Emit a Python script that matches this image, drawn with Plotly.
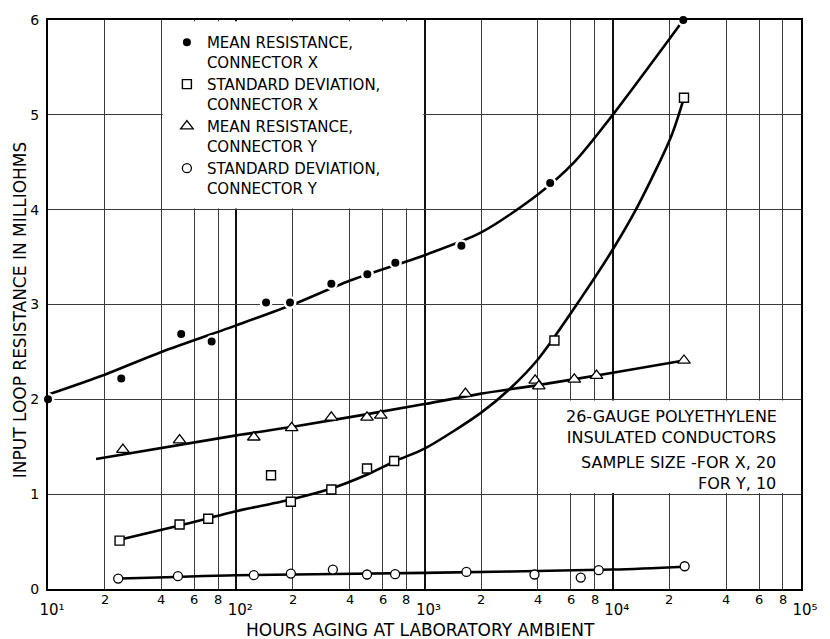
import math
import plotly.graph_objects as go

FONT = "DejaVu Sans"

# ---- measured points -------------------------------------------------------
hours_mean_x = [10, 24.5, 51, 74, 144, 193, 320, 497, 700, 1570, 4650, 23700]
mean_x = [2.0, 2.22, 2.69, 2.61, 3.02, 3.02, 3.22, 3.32, 3.44, 3.62, 4.28, 6.0]

hours_sd_x = [24, 50, 71, 153, 195, 320, 495, 690, 4900, 23900]
sd_x = [0.51, 0.68, 0.74, 1.20, 0.92, 1.05, 1.27, 1.35, 2.62, 5.18]

hours_mean_y = [25, 50, 124, 197, 320, 495, 586, 1650, 3870, 4050, 6250, 8200, 23900]
mean_y = [1.47, 1.57, 1.60, 1.70, 1.81, 1.81, 1.83, 2.06, 2.20, 2.14, 2.21, 2.25, 2.41]

hours_sd_y = [23.6, 49, 124, 195, 326, 495, 698, 1670, 3840, 6760, 8420, 24100]
sd_y = [0.11, 0.135, 0.146, 0.163, 0.205, 0.153, 0.156, 0.18, 0.153, 0.12, 0.198, 0.24]

# ---- smoothed trend curves -------------------------------------------------
fit_mean_x_h = [10, 20, 40, 100, 200, 400, 1000, 2000, 4000, 6300, 10000, 20000, 23700]
fit_mean_x = [2.05, 2.26, 2.50, 2.78, 3.00, 3.25, 3.52, 3.76, 4.16, 4.51, 5.0, 5.80, 6.0]

fit_sd_x_h = [24, 50, 100, 200, 320, 500, 700, 1000, 2000, 2870, 4000, 6800, 10000,
              13600, 20400, 23900]
fit_sd_x = [0.52, 0.67, 0.82, 0.95, 1.06, 1.21, 1.35, 1.48, 1.86, 2.12, 2.42, 3.07, 3.58,
            4.04, 4.77, 5.18]

fit_mean_y_h = [18, 100, 200, 1000, 2000, 4000, 10000, 23900]
fit_mean_y = [1.37, 1.62, 1.71, 1.95, 2.06, 2.15, 2.28, 2.41]

fit_sd_y_h = [24, 100, 1000, 10000, 24100]
fit_sd_y = [0.11, 0.145, 0.17, 0.205, 0.235]

# ---- axis ticks and labels -------------------------------------------------
decades = [10, 100, 1000, 10000, 100000]
decade_labels = ["10¹", "10²", "10³", "10⁴", "10⁵"]
minor_digits = [2, 4, 6, 8]
minor_vals = [d * m for d in decades[:-1] for m in minor_digits]
minor_labels = [str(m) for d in decades[:-1] for m in minor_digits]
y_ticks = [0, 1, 2, 3, 4, 5, 6]

series_names = ["MEAN RESISTANCE,<br>CONNECTOR X",
                "STANDARD DEVIATION,<br>CONNECTOR X",
                "MEAN RESISTANCE,<br>CONNECTOR Y",
                "STANDARD DEVIATION,<br>CONNECTOR Y"]
note_head = "26-GAUGE POLYETHYLENE<br>INSULATED CONDUCTORS"
note_sample = "SAMPLE SIZE -FOR X, 20<br>FOR Y, 10"
x_title = "HOURS AGING AT LABORATORY AMBIENT"
y_title = "INPUT LOOP RESISTANCE IN MILLIOHMS"

X_LOG_RANGE = [1, 5]
Y_RANGE = [0, 6]

fig = go.Figure()

# trend curves underneath the markers
for hx, vy in [(fit_mean_x_h, fit_mean_x), (fit_sd_x_h, fit_sd_x),
               (fit_mean_y_h, fit_mean_y), (fit_sd_y_h, fit_sd_y)]:
    fig.add_trace(go.Scatter(
        x=hx, y=vy, mode="lines",
        line=dict(color="black", width=2.6, shape="spline", smoothing=0.8),
        hoverinfo="skip", showlegend=False))

# measured points
fig.add_trace(go.Scatter(
    x=hours_mean_x, y=mean_x, mode="markers", cliponaxis=False,
    marker=dict(symbol="circle", size=10.5, color="black",
                line=dict(color="white", width=2.5)),
    name=series_names[0]))
fig.add_trace(go.Scatter(
    x=hours_sd_x, y=sd_x, mode="markers", cliponaxis=False,
    marker=dict(symbol="square", size=9, color="white",
                line=dict(color="black", width=1.4)),
    name=series_names[1]))
fig.add_trace(go.Scatter(
    x=hours_mean_y, y=mean_y, mode="markers", cliponaxis=False,
    marker=dict(symbol="triangle-up", size=11, color="white",
                line=dict(color="black", width=1.3)),
    name=series_names[2]))
fig.add_trace(go.Scatter(
    x=hours_sd_y, y=sd_y, mode="markers", cliponaxis=False,
    marker=dict(symbol="circle", size=9, color="white",
                line=dict(color="black", width=1.3)),
    name=series_names[3]))

# white panels that blank out the grid behind the key and the note
gap_x = 1.015
gap_y = 0.013
for (xa, xb), (ya, yb) in [((40, 1000), (4, 6)), ((4000, 100000), (1, 2))]:
    fig.add_shape(type="rect", xref="x", yref="y", layer="between",
                  x0=xa * gap_x, x1=xb / gap_x, y0=ya + gap_y, y1=yb - gap_y,
                  fillcolor="white", line=dict(width=0))


def px_x(px):
    return (px - 48) / 760.0


def px_y(py):
    return (589 - py) / 577.0


annotations = []

# note box
annotations.append(dict(
    xref="paper", yref="paper", x=px_x(677), y=px_y(425), text=note_head,
    showarrow=False, xanchor="center", yanchor="middle", align="center",
    borderpad=0, font=dict(family=FONT, size=16, color="black")))
annotations.append(dict(
    xref="paper", yref="paper", x=px_x(784), y=px_y(471), text=note_sample,
    showarrow=False, xanchor="right", yanchor="middle", align="right",
    borderpad=0, font=dict(family=FONT, size=16, color="black")))

# intermediate tick labels along the log axis
for v, lab in zip(minor_vals, minor_labels):
    annotations.append(dict(
        xref="paper", yref="paper",
        x=(math.log10(v) - X_LOG_RANGE[0]) / (X_LOG_RANGE[1] - X_LOG_RANGE[0]),
        y=px_y(600), text=lab, showarrow=False, xanchor="center", yanchor="middle",
        font=dict(family=FONT, size=13, color="black")))

# axis titles
annotations.append(dict(
    xref="paper", yref="paper", x=px_x(424), y=px_y(631), text=x_title,
    showarrow=False, xanchor="center", yanchor="middle",
    font=dict(family=FONT, size=17, color="black")))
annotations.append(dict(
    xref="paper", yref="paper", x=px_x(20), y=px_y(306), text=y_title,
    showarrow=False, textangle=-90, xanchor="center", yanchor="middle",
    font=dict(family=FONT, size=17, color="black")))

fig.update_layout(
    width=830, height=639,
    margin=dict(l=48, r=22, t=12, b=50),
    paper_bgcolor="white", plot_bgcolor="white",
    showlegend=True,
    legend=dict(
        x=px_x(168), y=px_y(18), xanchor="left", yanchor="top",
        valign="top", bgcolor="rgba(0,0,0,0)", borderwidth=0,
        font=dict(family=FONT, size=15, color="black"),
        itemsizing="trace",
    ),
    annotations=annotations,
    xaxis=dict(
        type="log", range=X_LOG_RANGE,
        tickvals=decades, ticktext=decade_labels,
        ticks="", showgrid=True, gridcolor="#111111", gridwidth=2,
        minor=dict(tickvals=minor_vals, showgrid=True, gridcolor="#3a3a3a",
                   gridwidth=1.1, ticks=""),
        showline=True, linecolor="black", linewidth=2, mirror=True,
        tickfont=dict(family=FONT, size=15, color="black"),
        ticklabelstandoff=6, ticklabelshift=4,
    ),
    yaxis=dict(
        range=Y_RANGE, tickvals=y_ticks, ticks="",
        showgrid=True, gridcolor="#3a3a3a", gridwidth=1.1, zeroline=False,
        showline=True, linecolor="black", linewidth=2, mirror=True,
        tickfont=dict(family=FONT, size=14, color="black"),
        ticklabelstandoff=4,
    ),
)

fig.write_html("out.html")
